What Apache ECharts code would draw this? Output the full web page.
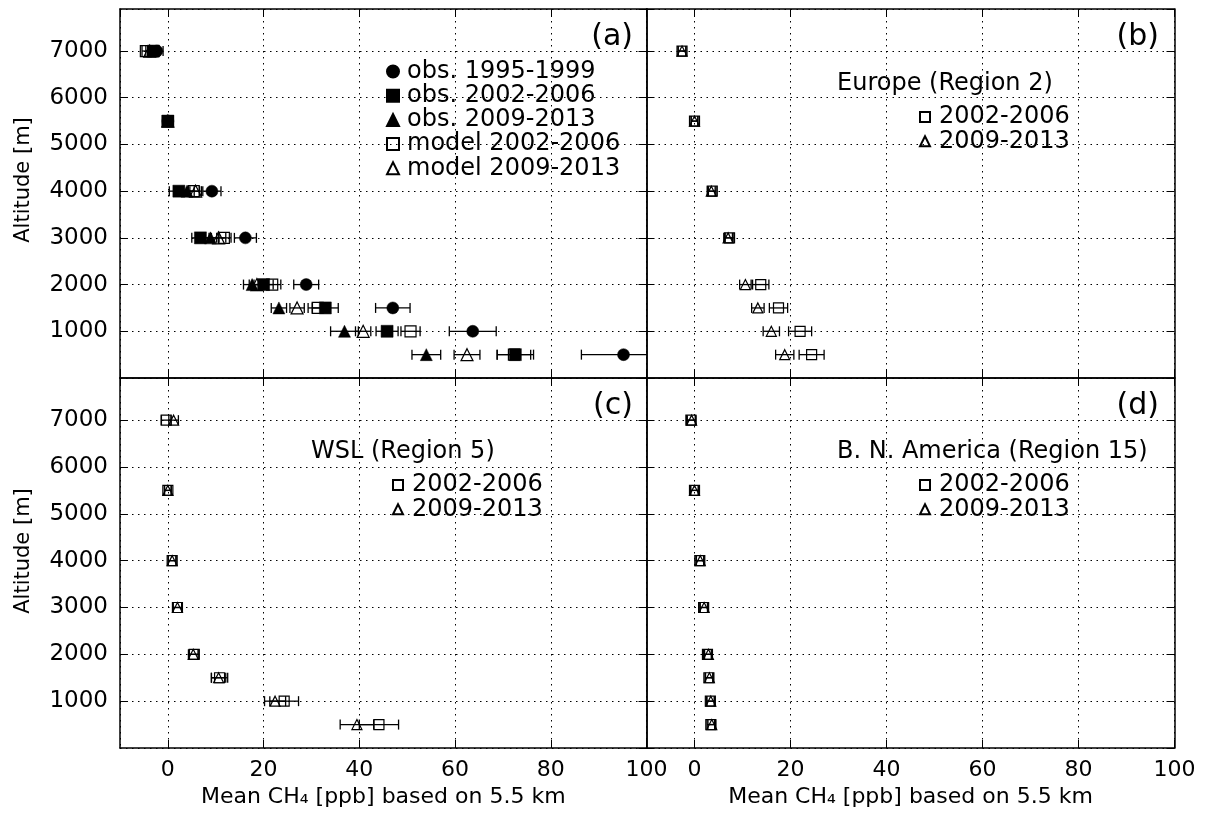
<!DOCTYPE html>
<html>
<head>
<meta charset="utf-8">
<script src="https://cdn.jsdelivr.net/npm/echarts@6/dist/echarts.min.js"></script>
<style>
html,body{margin:0;padding:0;background:#fff;}
#chart{width:1206px;height:816px;}
</style>
</head>
<body>
<div id="chart"></div>
<script>
// ---------- data ----------
const altitudes = [7000, 5500, 4000, 3000, 2000, 1500, 1000, 500];
const xTitle = 'Mean CH₄ [ppb] based on 5.5 km';
const yTitle = 'Altitude [m]';
const panelLabels = ['(a)', '(b)', '(c)', '(d)'];
const regionTitles = ['', 'Europe (Region 2)', 'WSL (Region 5)', 'B. N. America (Region 15)'];

// panel (a)
const obs1995    = [-2.3, 0.0, 9.2, 16.2, 28.9, 47.0, 63.7, 95.2];
const obs1995Err = [1.3, 0.8, 1.9, 2.3, 2.6, 3.6, 4.9, 8.8];
const obs2002    = [-3.0, 0.0, 2.3, 6.8, 20.0, 32.9, 45.8, 72.6];
const obs2002Err = [1.2, 1.0, 2.0, 1.8, 2.0, 2.7, 2.3, 3.8];
const obs2009    = [-3.2, 0.0, 4.0, 8.9, 17.6, 23.2, 36.9, 54.0];
const obs2009Err = [1.0, 1.0, 1.5, 1.8, 1.8, 1.6, 2.9, 3.0];
const mod2002    = [-4.6, 0.0, 5.4, 11.7, 21.8, 31.3, 50.7, 72.3];
const mod2002Err = [0.8, 0.6, 1.2, 1.5, 1.8, 2.0, 2.0, 3.5];
const mod2009    = [-3.8, 0.0, 5.8, 10.6, 18.6, 27.0, 40.8, 62.5];
const mod2009Err = [0.8, 0.6, 1.2, 1.5, 1.6, 1.5, 1.6, 2.7];

// panel (b) Europe
const eur2002    = [-2.6, 0.0, 3.7, 7.3, 13.8, 17.5, 22.0, 24.4];
const eur2002Err = [0.8, 0.7, 0.8, 0.9, 1.7, 1.9, 2.4, 2.6];
const eur2009    = [-2.6, 0.0, 3.5, 7.0, 10.6, 13.2, 16.0, 18.8];
const eur2009Err = [0.8, 0.7, 0.8, 0.9, 1.2, 1.3, 1.7, 1.9];

// panel (c) WSL
const wsl2002    = [-0.35, 0.0, 0.9, 2.0, 5.5, 10.8, 24.3, 44.1];
const wsl2002Err = [1.0, 0.7, 0.8, 0.9, 1.0, 1.7, 3.0, 4.1];
const wsl2009    = [1.2, 0.0, 0.9, 2.0, 5.3, 10.6, 22.4, 39.5];
const wsl2009Err = [1.0, 0.7, 0.8, 0.9, 1.0, 1.5, 2.2, 3.5];

// panel (d) B. N. America
const bna2002    = [-0.75, 0.0, 1.1, 1.9, 2.7, 3.0, 3.3, 3.4];
const bna2002Err = [0.9, 0.8, 0.8, 0.8, 0.8, 0.8, 0.8, 0.8];
const bna2009    = [-0.6, 0.0, 1.2, 2.0, 2.9, 3.1, 3.4, 3.6];
const bna2009Err = [0.9, 0.8, 0.8, 0.8, 0.8, 0.8, 0.8, 0.8];

const xMin = -10, xMax = 100;
const yMin = 0, yMax = 7900, yStep = 1000;

// ---------- layout / style ----------
const FONT = 'DejaVu Sans';
const grids = [
  {left: 120, top: 9, width: 526.5, height: 369},
  {left: 646.5, top: 9, width: 528, height: 369},
  {left: 120, top: 378, width: 526.5, height: 370},
  {left: 646.5, top: 378, width: 528, height: 370}
];

const panels = [
  [
    {name: 'obs. 1995-1999', v: obs1995, e: obs1995Err, symbol: 'circle', filled: true, size: 12},
    {name: 'obs. 2002-2006', v: obs2002, e: obs2002Err, symbol: 'rect', filled: true, size: 12},
    {name: 'obs. 2009-2013', v: obs2009, e: obs2009Err, symbol: 'triangle', filled: true, size: 12},
    {name: 'model 2002-2006', v: mod2002, e: mod2002Err, symbol: 'rect', filled: false, size: 11},
    {name: 'model 2009-2013', v: mod2009, e: mod2009Err, symbol: 'triangle', filled: false, size: 12}
  ],
  [
    {name: '2002-2006', v: eur2002, e: eur2002Err, symbol: 'rect', filled: false, size: 10},
    {name: '2009-2013', v: eur2009, e: eur2009Err, symbol: 'triangle', filled: false, size: 10}
  ],
  [
    {name: '2002-2006', v: wsl2002, e: wsl2002Err, symbol: 'rect', filled: false, size: 10},
    {name: '2009-2013', v: wsl2009, e: wsl2009Err, symbol: 'triangle', filled: false, size: 10}
  ],
  [
    {name: '2002-2006', v: bna2002, e: bna2002Err, symbol: 'rect', filled: false, size: 10},
    {name: '2009-2013', v: bna2009, e: bna2009Err, symbol: 'triangle', filled: false, size: 10}
  ]
];

function renderErr(params, api) {
  const y = api.value(2);
  const p1 = api.coord([api.value(0), y]);
  const p2 = api.coord([api.value(1), y]);
  const h = 5;
  const st = {stroke: '#000', lineWidth: 1.3, fill: null};
  return {
    type: 'group',
    children: [
      {type: 'line', shape: {x1: p1[0], y1: p1[1], x2: p2[0], y2: p2[1]}, style: st},
      {type: 'line', shape: {x1: p1[0], y1: p1[1] - h, x2: p1[0], y2: p1[1] + h}, style: st},
      {type: 'line', shape: {x1: p2[0], y1: p2[1] - h, x2: p2[0], y2: p2[1] + h}, style: st}
    ]
  };
}

const xAxes = [], yAxes = [], series = [];
const lineCol = '#000';
grids.forEach((g, i) => {
  const bottomRow = i >= 2, leftCol = (i % 2 === 0);
  xAxes.push({
    gridIndex: i, type: 'value', min: xMin, max: xMax, splitNumber: 5, position: 'bottom',
    axisLine: {onZero: false, lineStyle: {color: lineCol, width: 1.5}},
    axisTick: {inside: true, length: 8, lineStyle: {color: lineCol, width: 1}},
    axisLabel: {show: bottomRow, showMinLabel: false, color: '#000', fontSize: 22, fontFamily: FONT, margin: 11,
      formatter: v => String(v)},
    splitLine: {show: true, lineStyle: {color: '#000', width: 1, type: [1.5, 4.5]}},
    name: bottomRow ? xTitle : '', nameLocation: 'middle', nameGap: 38,
    nameTextStyle: {fontSize: 22, fontFamily: FONT, color: '#000'}
  });
  xAxes.push({
    gridIndex: i, type: 'value', min: xMin, max: xMax, splitNumber: 5, position: 'top',
    axisLine: {onZero: false, lineStyle: {color: lineCol, width: 1.5}},
    axisTick: {inside: true, length: 8, lineStyle: {color: lineCol, width: 1}},
    axisLabel: {show: false}, splitLine: {show: false}
  });
  yAxes.push({
    gridIndex: i, type: 'value', min: yMin, max: yMax, interval: yStep, position: 'left',
    axisLine: {onZero: false, lineStyle: {color: lineCol, width: 1.5}},
    axisTick: {inside: true, length: 8, lineStyle: {color: lineCol, width: 1}},
    axisLabel: {show: leftCol, showMinLabel: false, showMaxLabel: false, color: '#000', fontSize: 23, fontFamily: FONT, margin: 12,
      formatter: v => String(v)},
    splitLine: {show: true, lineStyle: {color: '#000', width: 1, type: [1.5, 4.5]}}
  });
  yAxes.push({
    gridIndex: i, type: 'value', min: yMin, max: yMax, interval: yStep, position: 'right',
    axisLine: {onZero: false, lineStyle: {color: lineCol, width: 1.5}},
    axisTick: {inside: true, length: 8, lineStyle: {color: lineCol, width: 1}},
    axisLabel: {show: false}, splitLine: {show: false}
  });

  panels[i].forEach(s => {
    series.push({
      type: 'scatter', name: s.name, xAxisIndex: 2 * i, yAxisIndex: 2 * i,
      symbol: s.symbol, symbolSize: s.size, z: 4,
      itemStyle: s.filled
        ? {color: '#000', borderColor: '#000', borderWidth: 0.5, opacity: 1}
        : {color: 'rgba(255,255,255,0)', borderColor: '#000', borderWidth: 1.2, opacity: 1},
      emphasis: {disabled: true},
      data: altitudes.map((a, k) => [s.v[k], a])
    });
  });
  panels[i].forEach(s => {
    series.push({
      type: 'custom', name: 'err ' + s.name + ' ' + i, xAxisIndex: 2 * i, yAxisIndex: 2 * i,
      renderItem: renderErr, clip: true, z: 3,
      encode: {x: [0, 1], y: 2},
      data: altitudes.map((a, k) => [s.v[k] - s.e[k], s.v[k] + s.e[k], a])
    });
  });
});

const titles = [
  {text: panelLabels[0], right: 573, top: 22},
  {text: panelLabels[1], right: 47, top: 22},
  {text: panelLabels[2], right: 573, top: 391},
  {text: panelLabels[3], right: 47, top: 391}
].map(t => Object.assign(t, {padding: 0, textStyle: {fontSize: 30, fontWeight: 'normal', color: '#000', fontFamily: FONT}}));
[[1, 837, 72], [2, 311, 440], [3, 837, 440]].forEach(([k, l, t]) => {
  titles.push({text: regionTitles[k], left: l, top: t, padding: 0,
    textStyle: {fontSize: 24, fontWeight: 'normal', color: '#000', fontFamily: FONT}});
});

const legTxt = {fontSize: 24, lineHeight: 24, color: '#000', fontFamily: FONT, padding: [0, 0, 0, 3]};
const legTxt2 = {fontSize: 24, lineHeight: 23, color: '#000', fontFamily: FONT, padding: [0, 0, 0, 4]};
const legends = [
  {left: 386, top: 59.5, orient: 'vertical', itemGap: 0.2, itemWidth: 12, itemHeight: 12, padding: 0,
   data: panels[0].map(s => s.name), textStyle: legTxt, selectedMode: false},
  {left: 919, top: 105, orient: 'vertical', itemGap: 0.3, itemWidth: 10, itemHeight: 10, padding: 0,
   data: ['2002-2006', '2009-2013'], textStyle: legTxt2, selectedMode: false},
  {left: 392, top: 473, orient: 'vertical', itemGap: 0.3, itemWidth: 10, itemHeight: 10, padding: 0,
   data: ['2002-2006', '2009-2013'], textStyle: legTxt2, selectedMode: false},
  {left: 919, top: 473, orient: 'vertical', itemGap: 0.3, itemWidth: 10, itemHeight: 10, padding: 0,
   data: ['2002-2006', '2009-2013'], textStyle: legTxt2, selectedMode: false}
];

// y-axis titles (one per row), rotated text
const yTitleGraphics = [180, 551].map(cy => ({
  type: 'text', x: 24, y: cy, rotation: Math.PI / 2,
  style: {text: yTitle, fontSize: 21, fontFamily: FONT, fill: '#000', align: 'center', verticalAlign: 'middle'}
}));

const chart = echarts.init(document.getElementById('chart'), null, {renderer: 'canvas'});
chart.setOption({
  animation: false,
  backgroundColor: '#fff',
  textStyle: {fontFamily: FONT},
  title: titles,
  legend: legends,
  grid: grids,
  xAxis: xAxes,
  yAxis: yAxes,
  graphic: yTitleGraphics,
  series: series
});
</script>
</body>
</html>
